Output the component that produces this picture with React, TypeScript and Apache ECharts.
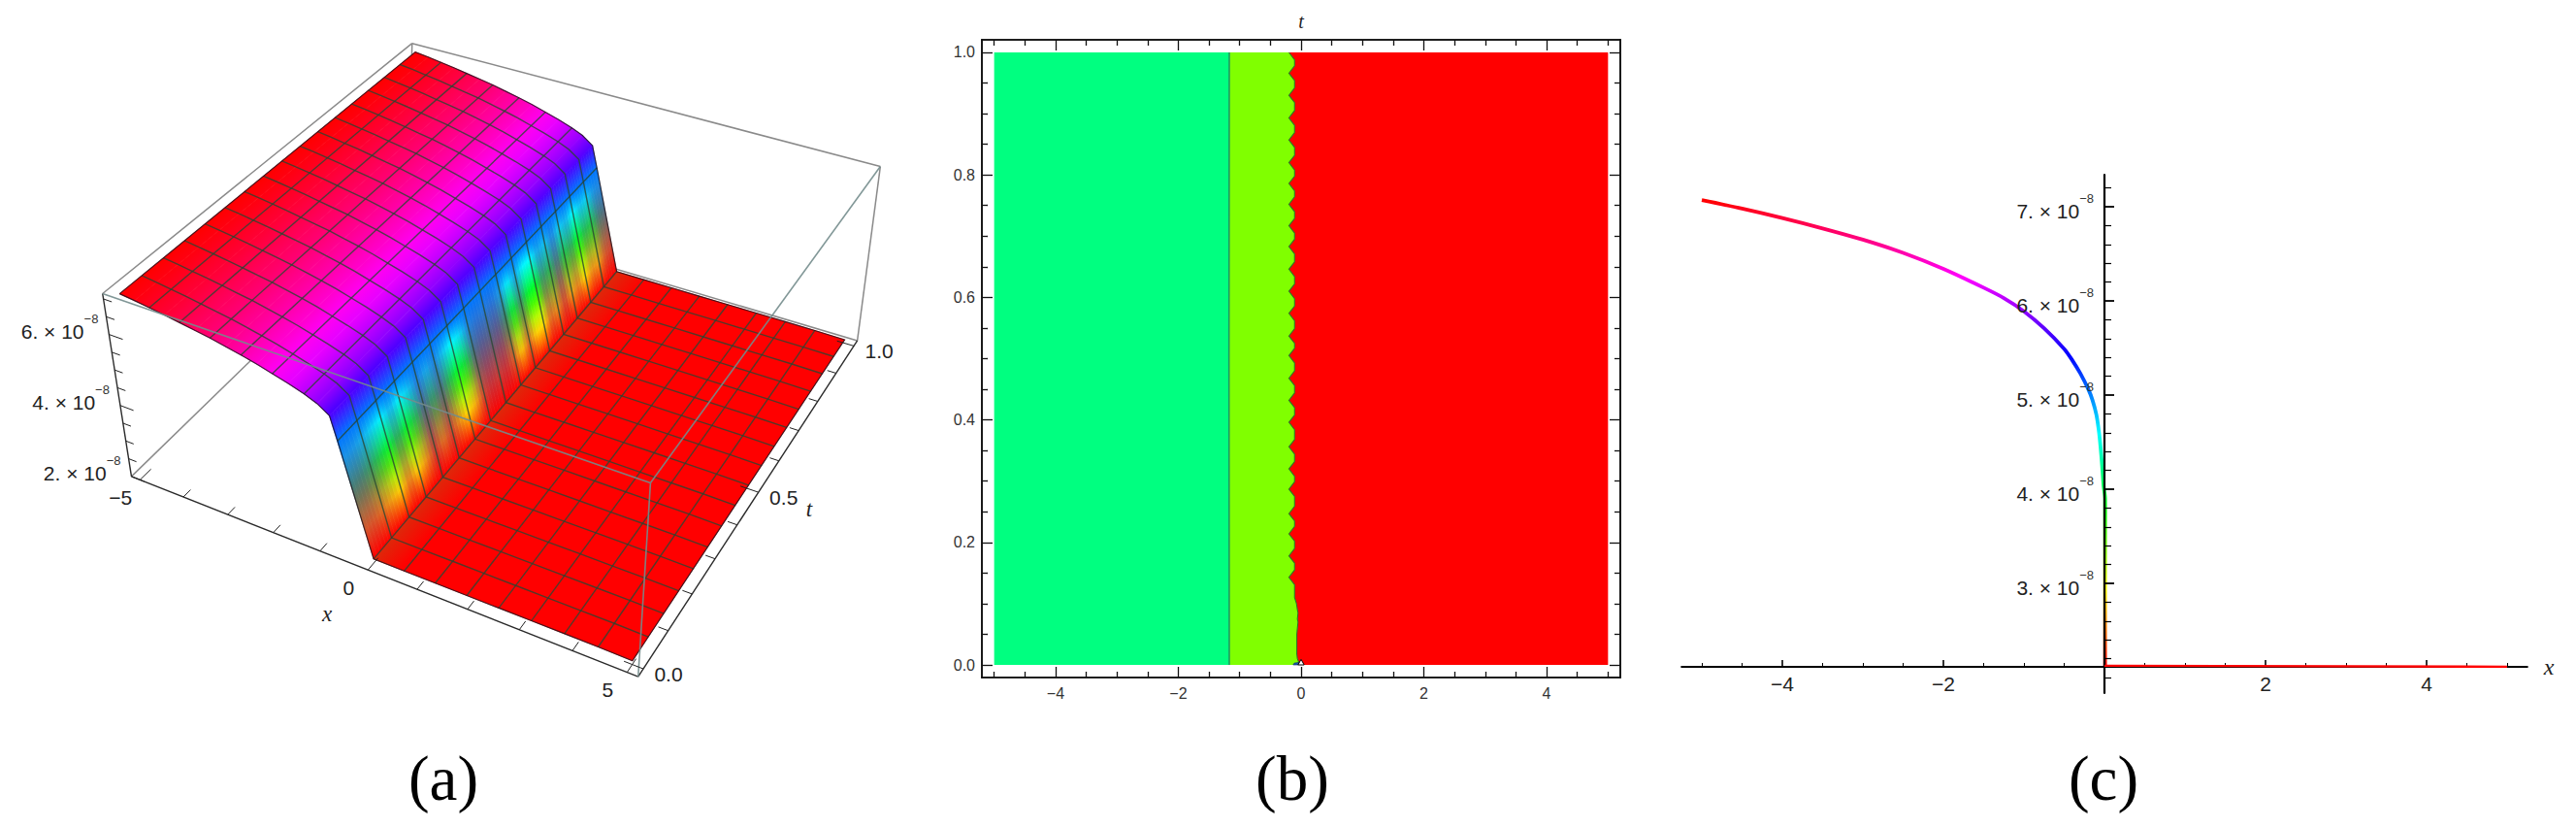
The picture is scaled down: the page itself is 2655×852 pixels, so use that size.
import React, { useEffect, useRef } from "react";
import * as echarts from "echarts";

// ---------- panel (a): surface, values in units of 1e-8 ----------
const surfaceX = [-5,-4.6875,-4.375,-4.0625,-3.75,-3.4375,-3.125,-2.8125,-2.5,-2.1875,-1.875,-1.5625,-1.25,-1,-0.76,-0.625,0,0.625,1.25,1.875,2.5,3.125,3.75,4.375,5];
const surfaceZ = [7.07,7.02,6.96,6.9,6.83,6.76,6.69,6.6,6.51,6.41,6.29,6.17,6.03,5.89,5.67,5.04,2.11,2.11,2.11,2.11,2.11,2.11,2.11,2.11,2.1];
const meshX = [-4.375,-3.75,-3.125,-2.5,-1.875,-1.25,-0.625,0,0.625,1.25,1.875,2.5,3.125,3.75,4.375];
const meshT = [0.0625,0.125,0.1875,0.25,0.3125,0.375,0.4375,0.5,0.5625,0.625,0.6875,0.75,0.8125,0.875,0.9375];
// how far each stripe of the steep face runs through the full rainbow, t = 0 .. 1
const stripeStrength = [0.3,0.3,0.45,0.7,0.95,0.5,0.95,0.6,0.15,0.45,0.2,0.6,1,0.75,0.2,0.1,0.15,0.1,0.35,0.9,0.4,0.95,1,0.4,0.6,0.2,0.7,0.5,1,0.6,0.7,0.3,0.2];
const aXTicks = [-5,-4,-3,-2,-1,0,1,2,3,4,5];
const aXLabels = [-5,0,5];
const aTTicks = [0,0.1,0.2,0.3,0.4,0.5,0.6,0.7,0.8,0.9,1];
const aTLabels = [0,0.5,1];
const aZTicks = [2,2.5,3,3.5,4,4.5,5,5.5,6,6.5,7];
const aZLabels = [2,4,6];

// ---------- panel (b): contour regions ----------
const bXTicks = [-4,-2,0,2,4];
const bXMinor = [-5,-4.5,-3.5,-3,-2.5,-1.5,-1,-0.5,0.5,1,1.5,2.5,3,3.5,4.5,5];
const bYTicks = [0,0.2,0.4,0.6,0.8,1];
const bYMinor = [0.05,0.1,0.15,0.25,0.3,0.35,0.45,0.5,0.55,0.65,0.7,0.75,0.85,0.9,0.95];
const bGreenEdge = [[-1.17,1],[-1.175,0.5],[-1.17,0]];
const bScallopT = [1,0.966,0.93,0.893,0.857,0.82,0.786,0.752,0.717,0.683,0.646,0.61,0.574,0.537,0.505,0.468,0.432,0.396,0.356,0.32,0.287,0.247,0.214,0.178,0.143];
const bTail = [[-0.106,0.11],[-0.09,0.105],[-0.075,0.1],[-0.06,0.09],[-0.05,0.085],[-0.06,0.075],[-0.05,0.07],[-0.06,0.06],[-0.07,0.05],[-0.07,0.018],[-0.06,0.01],[-0.04,0.005],[-0.06,0]];
const bBlipWhite = [[-0.05,0],[0,0.009],[0.05,0]];
const bBlipBlue = [[-0.13,0],[-0.11,0.003],[-0.03,0.004],[-0.05,0]];

// ---------- panel (c): section of the surface ----------
const cCurveX = [-5,-4.5,-4,-3.5,-3,-2.5,-2,-1.5,-1.25,-1,-0.75,-0.5,-0.4,-0.3,-0.2,-0.15,-0.1,-0.07,-0.05,-0.03,-0.01,0.008,0.008];
const cCurveY = [7.07,6.98,6.88,6.77,6.65,6.51,6.34,6.14,6.03,5.89,5.71,5.49,5.37,5.23,5.06,4.95,4.79,4.62,4.46,4.26,4.03,3.9,2.12];
const cFloorX = [0,5];
const cFloorY = [2.125,2.115];
const cXTicks = [-4,-2,2,4];
const cXMinor = [-5,-4.5,-3.5,-3,-2.5,-1.5,-1,-0.5,0.5,1,1.5,2.5,3,3.5,4.5,5];
const cYTicks = [3,4,5,6,7];
const cYMinor = [2,2.2,2.4,2.6,2.8,3.2,3.4,3.6,3.8,4.2,4.4,4.6,4.8,5.2,5.4,5.6,5.8,6.2,6.4,6.6,6.8,7.2];
const captions = ["(a)", "(b)", "(c)"];

// ---------- layout constants ----------
const FONT = "Liberation Sans";
const SERIF = "Liberation Serif";
type P = number[];
const topPlane: P[] = [[83,630],[1108,1065],[1538,338],[662,55]];
const bottomPlane: P[] = [[137,1050],[1085,1510],[1495,738],[655,432]];
const zBottom = 2.0, zTop = 7.15, surfMinZ = 2.11, surfMaxZ = 7.07;

function quadMap(q: P[]) {
  const [p0, p1, p2, p3] = q;
  const dx1 = p1[0]-p2[0], dy1 = p1[1]-p2[1], dx2 = p3[0]-p2[0], dy2 = p3[1]-p2[1];
  const sx = p0[0]-p1[0]+p2[0]-p3[0], sy = p0[1]-p1[1]+p2[1]-p3[1];
  const d = dx1*dy2-dx2*dy1;
  const g = (sx*dy2-dx2*sy)/d, h = (dx1*sy-sx*dy1)/d;
  const a = p1[0]*(g+1)-p0[0], b = p3[0]*(h+1)-p0[0], e = p1[1]*(g+1)-p0[1], f = p3[1]*(h+1)-p0[1];
  return (u: number, v: number): P => {
    const w = g*u+h*v+1;
    return [(a*u+b*v+p0[0])/w, (e*u+f*v+p0[1])/w];
  };
}
const mapTop = quadMap(topPlane), mapBottom = quadMap(bottomPlane);
function project(x: number, t: number, z: number): P {
  const u = (x+5.2)/10.4, v = (t+0.02)/1.04, w = (z-zBottom)/(zTop-zBottom);
  const b = mapBottom(u,v), a = mapTop(u,v);
  return [b[0]+(a[0]-b[0])*w, b[1]+(a[1]-b[1])*w];
}
function hueRGB(h: number): number[] {
  const k = ((h%1)+1)%1*6, i = Math.floor(k), f = k-i;
  const table = [[1,f,0],[1-f,1,0],[0,1,f],[0,1-f,1],[f,0,1],[1,0,1-f]];
  return table[i%6].map((c) => c*255);
}
const css = (c: number[]) => `rgb(${c.map((v)=>Math.round(v)).join(",")})`;
const mix = (a: number[], b: number[], s: number) => a.map((v,i)=>v+(b[i]-v)*s);
const hueOfZ = (z: number) => Math.max(0,(z-surfMinZ)/(surfMaxZ-surfMinZ));

function gradientAlong(A: P, B: P, d: P, stops: any[]) {
  const vx = B[0]-A[0], vy = B[1]-A[1];
  const k = (vx*d[0]+vy*d[1])/(d[0]*d[0]+d[1]*d[1]);
  return { type:"linear", x:A[0], y:A[1], x2:A[0]+vx-d[0]*k, y2:A[1]+vy-d[1]*k, colorStops:stops, global:true };
}

function surfaceElements(api: any) {
  const c = (x: number, t: number, z: number) => api.coord(project(x,t,z));
  const out: any[] = [];
  const iShoulder = surfaceX.indexOf(-0.76), iFoot = surfaceX.indexOf(0);
  for (let i = 0; i < surfaceX.length-1; i++) {
    if (i >= iShoulder && i < iFoot) continue;
    const x0 = surfaceX[i], x1 = surfaceX[i+1], z0 = surfaceZ[i], z1 = surfaceZ[i+1];
    const A = c(x0,0.5,z0), B = c(x1,0.5,z1);
    const d = [c(x0,1,z0)[0]-c(x0,0,z0)[0], c(x0,1,z0)[1]-c(x0,0,z0)[1]];
    const col0 = i === iFoot ? [222,40,10] : hueRGB(hueOfZ(z0));
    const col1 = hueRGB(hueOfZ(z1));
    const fill = gradientAlong(A,B,d,[{offset:0,color:css(col0)},{offset:1,color:css(col1)}]);
    out.push({ type:"polygon", shape:{points:[c(x0,0,z0),c(x1,0,z1),c(x1,1,z1),c(x0,1,z0)]}, style:{fill,stroke:fill,lineWidth:0.7} });
  }
  // the steep face, one thin strip per fraction of t
  const zS = surfaceZ[iShoulder], zF = surfaceZ[iFoot], xS = surfaceX[iShoulder];
  const h0 = hueOfZ(zS), sKnee = 0.178, hKnee = h0*(1-sKnee);
  const positions = [0,sKnee,0.3,0.4,0.5,0.6,0.7,0.8,0.9,1];
  const n = (stripeStrength.length-1)*3;
  for (let j = 0; j < n; j++) {
    const t0 = j/n, t1 = (j+1)/n, q = (j+0.5)/3, a = Math.floor(q);
    const f = stripeStrength[a]+(stripeStrength[a+1]-stripeStrength[a])*(q-a);
    const stops = positions.map((s) => {
      const full = hueRGB(h0*(1-s));
      if (s <= sKnee) return { offset:s, color:css(full) };
      const plain = mix(hueRGB(hKnee),[255,0,0],(s-sKnee)/(1-sKnee));
      return { offset:s, color:css(mix(plain,full,f)) };
    });
    const tm = (t0+t1)/2, A = c(xS,tm,zS), B = c(0,tm,zF);
    const d = [c(xS,1,zS)[0]-c(xS,0,zS)[0], c(xS,1,zS)[1]-c(xS,0,zS)[1]];
    const fill = gradientAlong(A,B,d,stops);
    out.push({ type:"polygon", shape:{points:[c(xS,t0,zS),c(0,t0,zF),c(0,t1,zF),c(xS,t1,zS)]}, style:{fill,stroke:fill,lineWidth:0.7} });
  }
  return out;
}
function meshElements(api: any) {
  const c = (x: number, t: number, z: number) => api.coord(project(x,t,z));
  const out: any[] = [];
  const meshStyle = { stroke:"rgba(40,70,50,0.8)", lineWidth:1.4, fill:"none" };
  for (const t of meshT) {
    out.push({ type:"polyline", shape:{points:surfaceX.map((x,i)=>c(x,t,surfaceZ[i]))}, style:meshStyle });
  }
  for (const x of meshX) {
    const z = surfaceZ[surfaceX.indexOf(x)];
    out.push({ type:"polyline", shape:{points:[c(x,0,z),c(x,1,z)]}, style:meshStyle });
  }
  const edge = { stroke:"rgba(25,15,25,0.8)", lineWidth:1.2, fill:"none" };
  const front = surfaceX.map((x,i)=>c(x,0,surfaceZ[i]));
  const back = surfaceX.map((x,i)=>c(x,1,surfaceZ[i])).reverse();
  out.push({ type:"polyline", shape:{points:[...front,...back,front[0]]}, style:edge });
  return out;
}
function boxElements(api: any, edges: number[][], style: any) {
  const pts = [...topPlane, ...bottomPlane];
  return edges.map(([a,b]) => {
    const p = api.coord(pts[a]), q = api.coord(pts[b]);
    return { type:"line", shape:{x1:p[0],y1:p[1],x2:q[0],y2:q[1]}, style };
  });
}
const backEdges = [[0,3],[3,2],[2,6],[4,7],[7,6],[3,7]];
const blackEdges = [[4,5],[5,6],[0,4]];
const frontEdges = [[0,1],[1,2],[1,5]];

function tickElements(api: any) {
  const out: any[] = [];
  const st = { stroke:"#222", lineWidth:1 };
  const seg = (a: P, b: P) => {
    const p = api.coord(a), q = api.coord(b);
    out.push({ type:"line", shape:{x1:p[0],y1:p[1],x2:q[0],y2:q[1]}, style:st });
  };
  for (const x of aXTicks) seg(project(x,-0.02,zBottom), project(x,aXLabels.includes(x)?0.015:0.003,zBottom));
  for (const t of aTTicks) seg(project(5.2,t,zBottom), project(aTLabels.includes(t)?4.85:5.02,t,zBottom));
  for (const z of aZTicks) seg(project(-5.2,-0.02,z), project(aZLabels.includes(z)?-4.9:-5.02,-0.02,z));
  const txt = (pos: P, dx: number, dy: number, text: string, align: string, extra: any = {}) => {
    const p = api.coord(pos);
    out.push({ type:"text", x:p[0]+dx, y:p[1]+dy, style:{ text, align, verticalAlign:"middle", fontFamily:FONT, fontSize:21, fill:"#222", ...extra } });
  };
  for (const x of aXLabels) txt(project(x,-0.02,zBottom), -20, 18, x<0?`−${-x}`:`${x}`, "center");
  for (const t of aTLabels) txt(project(5.2,t,zBottom), 26, 5, t.toFixed(1), "center");
  for (const z of aZLabels) {
    txt(project(-5.2,-0.02,z), -11, -8, `{a|${z}. × 10}{b|−8}`, "right", {
      rich:{ a:{fontFamily:FONT,fontSize:21,fill:"#222",lineHeight:30,verticalAlign:"bottom"}, b:{fontFamily:FONT,fontSize:13,fill:"#333",lineHeight:30,verticalAlign:"top"} },
    });
  }
  txt([503,1365], 0, 0, "x", "center", { fontFamily:SERIF, fontStyle:"italic", fontSize:23 });
  txt([1405,1125], 0, 0, "t", "center", { fontFamily:SERIF, fontStyle:"italic", fontSize:23 });
  return out;
}

function bRegions(api: any) {
  const c = (p: number[]) => api.coord(p);
  const top = [bGreenEdge[0][0],1];
  const boundary: number[][] = [];
  bScallopT.forEach((t, i) => {
    boundary.push([-0.198,t]);
    const next = i+1 < bScallopT.length ? bScallopT[i+1] : t-0.034;
    boundary.push([-0.106,t-0.012]);
    boundary.push([-0.106,next+0.012]);
  });
  boundary.push(...bTail);
  const edgeTop = bGreenEdge[0], edgeBottom = bGreenEdge[bGreenEdge.length-1];
  const poly = (pts: number[][], fill: string, stroke?: string, lineWidth = 0) => ({
    type:"polygon", shape:{points:pts.map(c)}, style:{fill, stroke: stroke||fill, lineWidth},
  });
  return [
    poly([[-5,1],[edgeTop[0],1],...bGreenEdge.slice(1,-1),[edgeBottom[0],0],[-5,0]], "#00ff80"),
    poly([top,[boundary[0][0],1],...boundary,...[...bGreenEdge].reverse().slice(0,-1)], "#80ff00"),
    poly([[boundary[0][0],1],[5,1],[5,0],boundary[boundary.length-1],...[...boundary].reverse()], "#ff0000"),
    { type:"polyline", shape:{points:boundary.map(c)}, style:{stroke:"#2a7a20",lineWidth:1.1,fill:"none"} },
    { type:"polyline", shape:{points:bGreenEdge.map(c)}, style:{stroke:"#1d9a62",lineWidth:1.6,fill:"none"} },
    poly(bBlipBlue, "#1a5fb0", "#0a2a60", 0.6),
    poly(bBlipWhite, "#ffffff", "#000000", 1),
  ];
}

function frameAxis(extra: any) { return { type:"value", z:1, ...extra }; }
const axisTextStyle = { fontFamily:FONT, fontSize:16, color:"#333" };
const bXMin = -5.2, bXMax = 5.2, bYMin = -0.0206, bYMax = 1.0206;
const signed = (v: number) => (v<0?`−${-v}`:`${v}`);

function buildOption() {
  const hiddenX = { type:"value", min:0, max:1561, show:false, gridIndex:0 };
  const hiddenY = { type:"value", min:0, max:1561, inverse:true, show:false, gridIndex:0 };
  const frameLine = { show:true, onZero:false, lineStyle:{color:"#111",width:1.6} };
  const bx = (grid: number, pos: string, vals: number[], len: number, lab: boolean, extra: any = {}) => frameAxis({
    gridIndex:grid, position:pos, min:bXMin, max:bXMax, splitLine:{show:false},
    axisLine:frameLine,
    axisTick:{show:true,inside:true,length:len,customValues:vals,lineStyle:{color:"#111",width:1.3}},
    axisLabel: lab ? { show:true, customValues:vals, margin:8, formatter:(v:number)=>signed(v), ...axisTextStyle } : { show:false },
    ...extra,
  });
  const by = (grid: number, pos: string, vals: number[], len: number, lab: boolean) => frameAxis({
    gridIndex:grid, position:pos, min:bYMin, max:bYMax, splitLine:{show:false},
    axisLine:frameLine,
    axisTick:{show:true,inside:true,length:len,customValues:vals,lineStyle:{color:"#111",width:1.3}},
    axisLabel: lab ? { show:true, customValues:vals, margin:7, formatter:(v:number)=>v.toFixed(1), ...axisTextStyle } : { show:false },
  });
  const supRich = {
    a:{fontFamily:FONT,fontSize:21,color:"#222",lineHeight:30,verticalAlign:"bottom"},
    b:{fontFamily:FONT,fontSize:13,color:"#333",lineHeight:30,verticalAlign:"top"},
  };
  const cAxisLine = { show:true, onZero:false, lineStyle:{color:"#000",width:2.2} };
  const cx = (grid: number, major: boolean) => ({
    type:"value", gridIndex:grid, position:"bottom", offset:-27, min:-5.25, max:5.25, z:1, splitLine:{show:false},
    axisLine: major ? cAxisLine : {show:false,onZero:false},
    axisTick:{show:true,inside:true,length:major?7:4,customValues:major?cXTicks:cXMinor,lineStyle:{color:"#000",width:major?1.6:1}},
    axisLabel: major ? { show:true, customValues:cXTicks, margin:7, formatter:(v:number)=>signed(v), fontFamily:FONT, fontSize:21, color:"#222" } : {show:false},
    ...(major ? { name:"x", nameLocation:"end", nameGap:17, nameTextStyle:{fontFamily:SERIF,fontStyle:"italic",fontSize:24,color:"#222"} } : {}),
  });
  const cy = (grid: number, major: boolean) => ({
    type:"value", gridIndex:grid, position:"left", offset:-435.75, min:1.835, max:7.34, z:3, splitLine:{show:false},
    axisLine: major ? cAxisLine : {show:false,onZero:false},
    axisTick:{show:true,inside:true,length:major?10:7,customValues:major?cYTicks:cYMinor,lineStyle:{color:"#000",width:major?1.8:1.2}},
    axisLabel: major ? { show:true, customValues:cYTicks, margin:11, formatter:(v:number)=>`{a|${v}. × 10}{b|−8}`, rich:supRich } : {show:false},
  });
  const single = [[0,0]];
  const custom = (z: number, renderItem: any, xi = 0, yi = 0) => ({
    type:"custom", coordinateSystem:"cartesian2d", xAxisIndex:xi, yAxisIndex:yi, data:single, z, silent:true, clip:false,
    renderItem:(_:any, api:any)=>({ type:"group", children:renderItem(api) }),
  });
  const hueStops = [0,1/6,2/6,3/6,4/6,5/6,1].map((h)=>css(hueRGB(h===1?0.99999:h)));
  const curve = cCurveX.map((x,i)=>[x,cCurveY[i]]);
  const floor = cFloorX.map((x,i)=>[x,cFloorY[i]]);
  const bRect = { left:1012, top:41, width:658, height:657, containLabel:false, show:false };
  const cRect = { left:1733.25, top:180, width:871.5, height:534, containLabel:false, show:false };
  return {
    animation:false,
    backgroundColor:"#ffffff",
    grid:[
      { left:60, top:20, width:860, height:700, show:false },
      bRect, bRect, cRect, cRect,
    ],
    xAxis:[
      hiddenX,
      bx(1,"bottom",bXTicks,11,true),
      bx(1,"top",bXTicks,11,false,{ name:"t", nameLocation:"middle", nameGap:9, nameTextStyle:{fontFamily:SERIF,fontStyle:"italic",fontSize:20,color:"#222"} }),
      bx(2,"bottom",bXMinor,6,false),
      bx(2,"top",bXMinor,6,false),
      cx(3,true),
      cx(4,false),
    ],
    yAxis:[
      hiddenY,
      by(1,"left",bYTicks,11,true),
      by(1,"right",bYTicks,11,false),
      by(2,"left",bYMinor,6,false),
      by(2,"right",bYMinor,6,false),
      cy(3,true),
      cy(4,false),
    ],
    visualMap:[{
      show:false, type:"continuous", seriesIndex:7, dimension:1, min:surfMinZ, max:surfMaxZ, inRange:{color:hueStops},
    }],
    series:[
      custom(2,(api:any)=>[
        ...boxElements(api,backEdges,{stroke:"#8a8a8a",lineWidth:1.5}),
        ...boxElements(api,blackEdges,{stroke:"#2a2a2a",lineWidth:1.4}),
      ]),
      custom(3,surfaceElements),
      custom(4,meshElements),
      custom(5,(api:any)=>boxElements(api,frontEdges,{stroke:"rgba(115,140,140,0.9)",lineWidth:1.6})),
      custom(6,tickElements),
      custom(2,bRegions,1,1),
      { type:"line", name:"floor", xAxisIndex:5, yAxisIndex:5, data:floor, showSymbol:false, z:5, lineStyle:{color:"#ff0000",width:2.4} },
      { type:"line", name:"curve", xAxisIndex:5, yAxisIndex:5, data:curve, showSymbol:false, z:2, smooth:0.3, lineStyle:{width:3.8} },
    ],
    graphic:captions.map((text,i)=>({
      type:"text", x:[457,1332,2168][i], y:802, silent:true,
      style:{ text, align:"center", verticalAlign:"middle", fontFamily:SERIF, fontSize:65, fill:"#000" },
    })),
  };
}

export default function App() {
  const ref = useRef<HTMLDivElement>(null);
  useEffect(() => {
    const chart = echarts.init(ref.current!, undefined, { renderer:"svg" });
    chart.setOption(buildOption() as any);
    return () => chart.dispose();
  }, []);
  return <div ref={ref} style={{ position:"absolute", left:0, top:0, width:2655, height:852 }} />;
}
